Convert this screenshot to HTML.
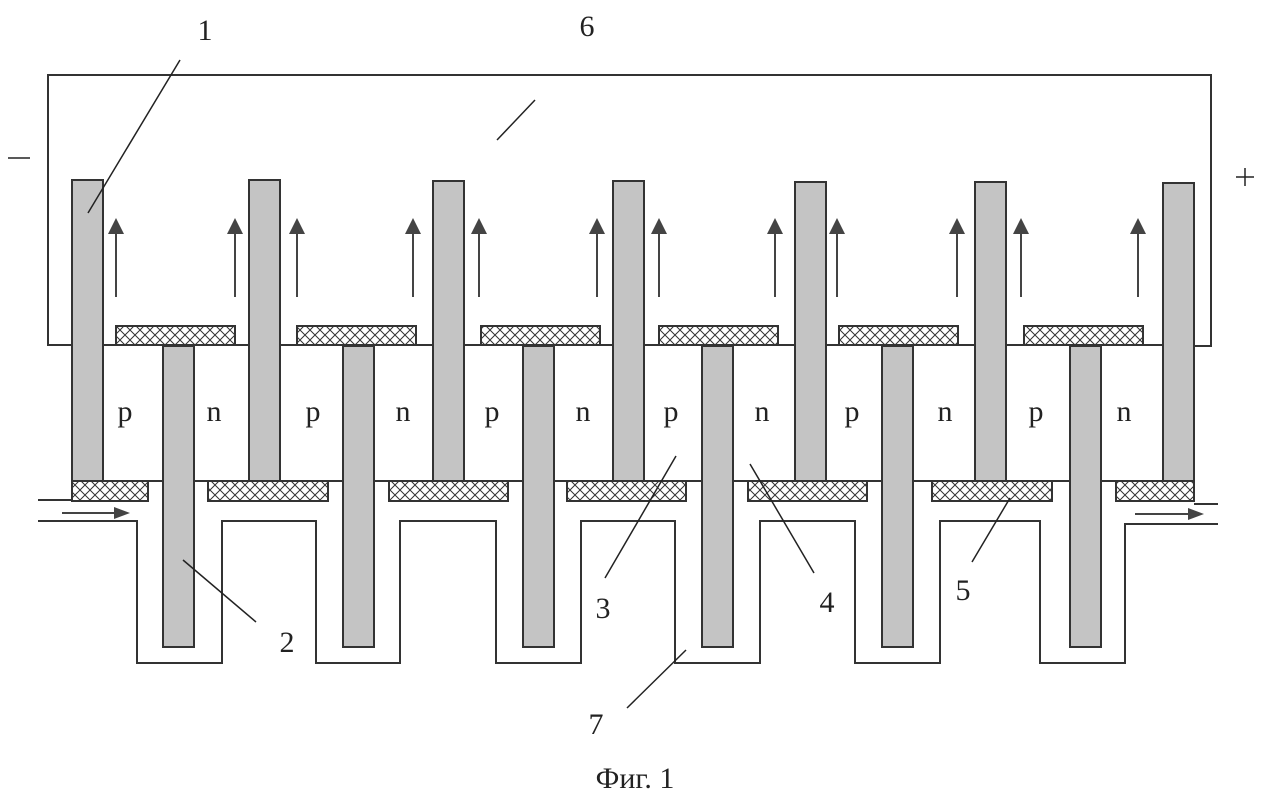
<!DOCTYPE html>
<html><head><meta charset="utf-8"><style>
html,body{margin:0;padding:0;background:#fff}
svg{display:block}
text{font-family:"Liberation Serif",serif;fill:#222}
</style></head><body>
<svg width="1263" height="799" viewBox="0 0 1263 799">
<defs>
<pattern id="h" width="10" height="10" patternUnits="userSpaceOnUse">
<rect width="10" height="10" fill="#fff"/>
<path d="M0 0L10 10M10 0L0 10" stroke="#333" stroke-width="1"/>
</pattern>
<g id="a"><line x1="0" y1="297" x2="0" y2="230" stroke="#444" stroke-width="2"/><polygon points="0,218 -8,234 8,234" fill="#444"/></g>
</defs>
<g stroke="#333" stroke-width="2" fill="none">
<polyline points="72,345 48,345 48,75 1211,75 1211,346 1194,346"/>
<line x1="48" y1="345" x2="1194" y2="345"/>
<line x1="72" y1="481" x2="1194" y2="481"/>
<line x1="38" y1="500" x2="72" y2="500"/>
<line x1="1194" y1="504" x2="1218" y2="504"/>
<polyline points="38,521 137,521 137,663 222,663 222,521 316,521 316,663 400,663 400,521 496,521 496,663 581,663 581,521 675,521 675,663 760,663 760,521 855,521 855,663 940,663 940,521 1040,521 1040,663 1125,663 1125,524 1218,524"/>
</g>
<g fill="url(#h)" stroke="#333" stroke-width="2">
<rect x="116" y="326" width="119" height="19"/>
<rect x="297" y="326" width="119" height="19"/>
<rect x="481" y="326" width="119" height="19"/>
<rect x="659" y="326" width="119" height="19"/>
<rect x="839" y="326" width="119" height="19"/>
<rect x="1024" y="326" width="119" height="19"/>
<rect x="72" y="481" width="76" height="20"/>
<rect x="208" y="481" width="120" height="20"/>
<rect x="389" y="481" width="119" height="20"/>
<rect x="567" y="481" width="119" height="20"/>
<rect x="748" y="481" width="119" height="20"/>
<rect x="932" y="481" width="120" height="20"/>
<rect x="1116" y="481" width="78" height="20"/>
</g>
<g fill="#c4c4c4" stroke="#333" stroke-width="2">
<rect x="72" y="180" width="31" height="301"/>
<rect x="249" y="180" width="31" height="301"/>
<rect x="433" y="181" width="31" height="300"/>
<rect x="613" y="181" width="31" height="300"/>
<rect x="795" y="182" width="31" height="299"/>
<rect x="975" y="182" width="31" height="299"/>
<rect x="1163" y="183" width="31" height="298"/>
<rect x="163" y="346" width="31" height="301"/>
<rect x="343" y="346" width="31" height="301"/>
<rect x="523" y="346" width="31" height="301"/>
<rect x="702" y="346" width="31" height="301"/>
<rect x="882" y="346" width="31" height="301"/>
<rect x="1070" y="346" width="31" height="301"/>
</g>
<use href="#a" x="116"/><use href="#a" x="235"/><use href="#a" x="297"/><use href="#a" x="413"/>
<use href="#a" x="479"/><use href="#a" x="597"/><use href="#a" x="659"/><use href="#a" x="775"/>
<use href="#a" x="837"/><use href="#a" x="957"/><use href="#a" x="1021"/><use href="#a" x="1138"/>
<g stroke="#444" stroke-width="2" fill="#444">
<line x1="62" y1="513" x2="120" y2="513"/><polygon points="130,513 114,507 114,519" stroke="none"/>
<line x1="1135" y1="514" x2="1193" y2="514"/><polygon points="1204,514 1188,508 1188,520" stroke="none"/>
</g>
<g stroke="#222" stroke-width="1.5">
<line x1="180" y1="60" x2="88" y2="213"/>
<line x1="535" y1="100" x2="497" y2="140"/>
<line x1="183" y1="560" x2="256" y2="622"/>
<line x1="676" y1="456" x2="605" y2="578"/>
<line x1="750" y1="464" x2="814" y2="573"/>
<line x1="1010" y1="498" x2="972" y2="562"/>
<line x1="686" y1="650" x2="627" y2="708"/>
<line x1="8" y1="158" x2="30" y2="158"/>
<line x1="1236" y1="177" x2="1254" y2="177"/><line x1="1245" y1="168" x2="1245" y2="186"/>
</g>
<g font-size="30" text-anchor="middle">
<text x="205" y="40">1</text>
<text x="587" y="36">6</text>
<text x="287" y="652">2</text>
<text x="603" y="618">3</text>
<text x="827" y="612">4</text>
<text x="963" y="600">5</text>
<text x="596" y="734">7</text>
<text x="125" y="421">p</text><text x="214" y="421">n</text>
<text x="313" y="421">p</text><text x="403" y="421">n</text>
<text x="492" y="421">p</text><text x="583" y="421">n</text>
<text x="671" y="421">p</text><text x="762" y="421">n</text>
<text x="852" y="421">p</text><text x="945" y="421">n</text>
<text x="1036" y="421">p</text><text x="1124" y="421">n</text>
<text x="635" y="788">Фиг. 1</text>
</g>
</svg>
</body></html>
